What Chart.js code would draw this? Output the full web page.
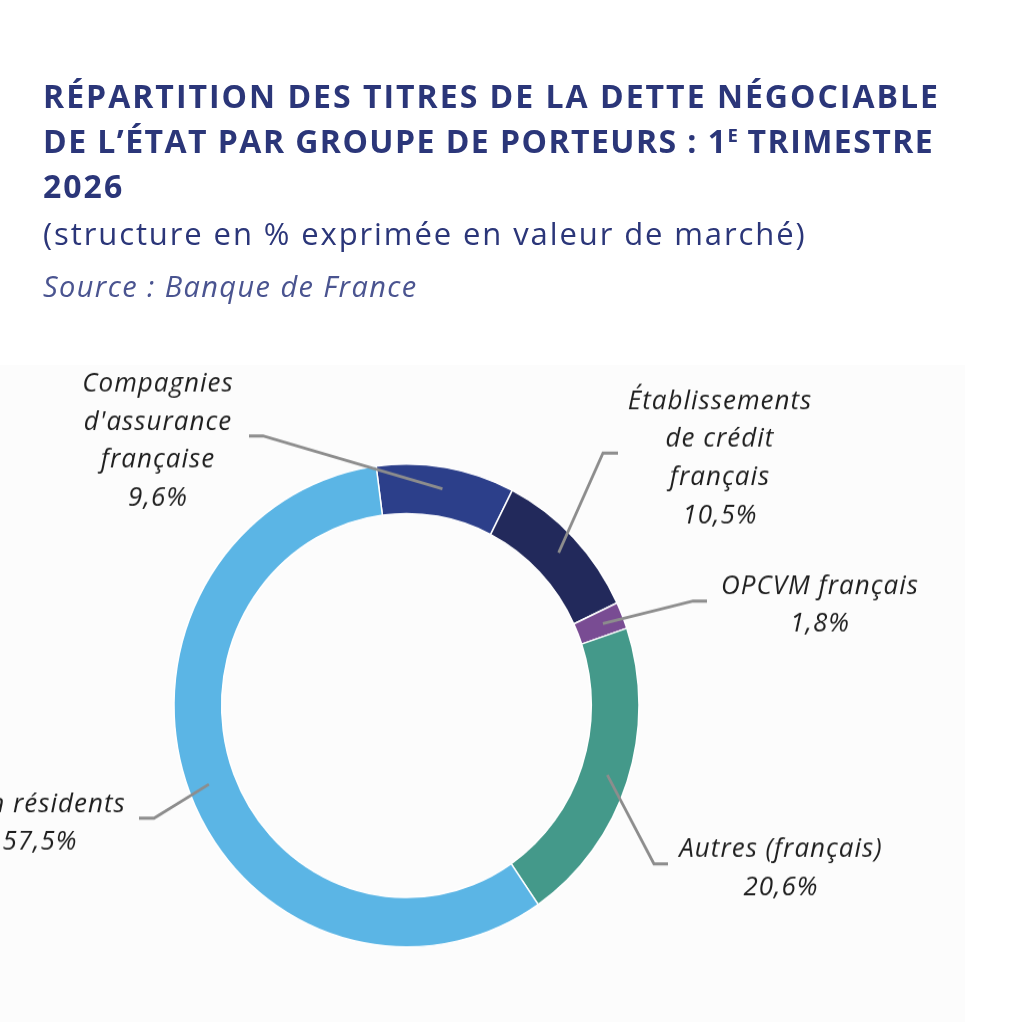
<!DOCTYPE html>
<html lang="fr">
<head>
<meta charset="utf-8">
<title>Répartition des titres de la dette négociable de l'État</title>
<script src="https://cdn.jsdelivr.net/npm/chart.js@4/dist/chart.umd.min.js"></script>
<style>
  html, body { margin: 0; padding: 0; background: #ffffff; }
  body { width: 1026px; height: 1022px; position: relative; overflow: hidden; font-family: "Open Sans", sans-serif; }
  .panel { position: absolute; left: 0; top: 365px; width: 965px; height: 657px; background: #fcfcfc; }
  .chart-box { position: absolute; left: 0; top: 0; width: 1026px; height: 1022px; }
  .title { position: absolute; left: 43px; top: 73px; margin: 0; font-size: 32px; line-height: 45px; font-weight: 700; letter-spacing: 2px; color: #2b3679; white-space: nowrap; }
  .title .l2 { letter-spacing: 1.45px; }
  .title sup { font-size: 0.58em; vertical-align: 0.62em; line-height: 0; letter-spacing: 0; }
  .subtitle { position: absolute; left: 43px; top: 213px; margin: 0; font-size: 31px; line-height: 40px; letter-spacing: 1.9px; color: #2b3679; white-space: nowrap; }
  .source { position: absolute; left: 43px; top: 266px; margin: 0; font-size: 29px; line-height: 40px; letter-spacing: 1.4px; font-style: italic; color: #4a5490; white-space: nowrap; }
</style>
</head>
<body>
<div class="panel"></div>
<div class="chart-box"><canvas id="porteurs-chart" width="1026" height="984" style="width:1026px;height:1022px"></canvas></div>
<h1 class="title">RÉPARTITION DES TITRES DE LA DETTE NÉGOCIABLE<br><span class="l2">DE L’ÉTAT PAR GROUPE DE PORTEURS : 1<sup>E</sup> TRIMESTRE</span><br>2026</h1>
<p class="subtitle">(structure en % exprimée en valeur de marché)</p>
<p class="source">Source : Banque de France</p>

<script>
// Données (en % de la valeur de marché)
const categories = [
  "Compagnies d'assurance française",
  "Établissements de crédit français",
  "OPCVM français",
  "Autres (français)",
  "Non résidents",
];
const labelLines = [
  ["Compagnies", "d'assurance", "française"],
  ["Établissements", "de crédit", "français"],
  ["OPCVM français"],
  ["Autres (français)"],
  ["Non résidents"],
];
const shares = [9.6, 10.5, 1.8, 20.6, 57.5];
const valueLabels = ["9,6%", "10,5%", "1,8%", "20,6%", "57,5%"];
const colors = ["#2c3f8a", "#22295b", "#794c93", "#44998a", "#5bb5e5"];

// Position des étiquettes, relative au centre de l'anneau
const calloutLayout = [
  { elbowX: -143.5, elbowY: -259.5, endX: -157.5, textX: -248.5, textY: -302 },
  { elbowX: 196.5, elbowY: -243, endX: 211.5, textX: 313.5, textY: -285.5 },
  { elbowX: 286.5, elbowY: -100.5, endX: 300.5, textX: 413.5, textY: -107.5 },
  { elbowX: 247.5, elbowY: 152.5, endX: 261.5, textX: 374.5, textY: 146 },
  { elbowX: -252.5, elbowY: 108.5, endX: -267.5, textX: -366.5, textY: 102.5 },
];
const LINE_HEIGHT = 36.6;

// Plugin : traits de rappel + étiquettes autour de l'anneau
const calloutPlugin = {
  id: "callouts",
  afterDatasetsDraw(chart) {
    const { ctx } = chart;
    const meta = chart.getDatasetMeta(0);
    ctx.save();
    meta.data.forEach((arc, i) => {
      const { x, y, startAngle, endAngle, innerRadius, outerRadius } = arc.getProps(
        ["x", "y", "startAngle", "endAngle", "innerRadius", "outerRadius"],
        true
      );
      const mid = (startAngle + endAngle) / 2;
      const r = (innerRadius + outerRadius) / 2 + 3;
      const lay = calloutLayout[i];

      ctx.strokeStyle = "#8d8d8d";
      ctx.lineWidth = 2.8;
      ctx.beginPath();
      ctx.moveTo(x + Math.cos(mid) * r, y + Math.sin(mid) * r);
      ctx.lineTo(x + lay.elbowX, y + lay.elbowY);
      ctx.lineTo(x + lay.endX, y + lay.elbowY);
      ctx.stroke();

      ctx.fillStyle = "#1f1f1f";
      ctx.font = "italic 26px 'Open Sans', sans-serif";
      ctx.letterSpacing = "1px";
      ctx.textAlign = "center";
      ctx.textBaseline = "alphabetic";
      const lines = labelLines[i].concat([valueLabels[i]]);
      lines.forEach((txt, k) => {
        ctx.fillText(txt, x + lay.textX, y + lay.textY + k * LINE_HEIGHT);
      });
    });
    ctx.restore();
  },
};

function drawChart() {
  const ctx = document.getElementById("porteurs-chart");
  new Chart(ctx, {
    type: "doughnut",
    data: {
      labels: categories,
      datasets: [
        {
          data: shares,
          backgroundColor: colors,
          borderColor: "#ffffff",
          borderWidth: 1.5,
        },
      ],
    },
    options: {
      responsive: false,
      animation: false,
      events: [],
      rotation: -7.5,
      cutout: "79.5%",
      layout: {
        padding: { left: 173.25, right: 386.25, top: 446, bottom: 71.5 },
      },
      plugins: {
        legend: { display: false },
        tooltip: { enabled: false },
      },
    },
    plugins: [calloutPlugin],
  });
}

document.fonts.load("italic 26px 'Open Sans'").then(drawChart, drawChart);
</script>
</body>
</html>
